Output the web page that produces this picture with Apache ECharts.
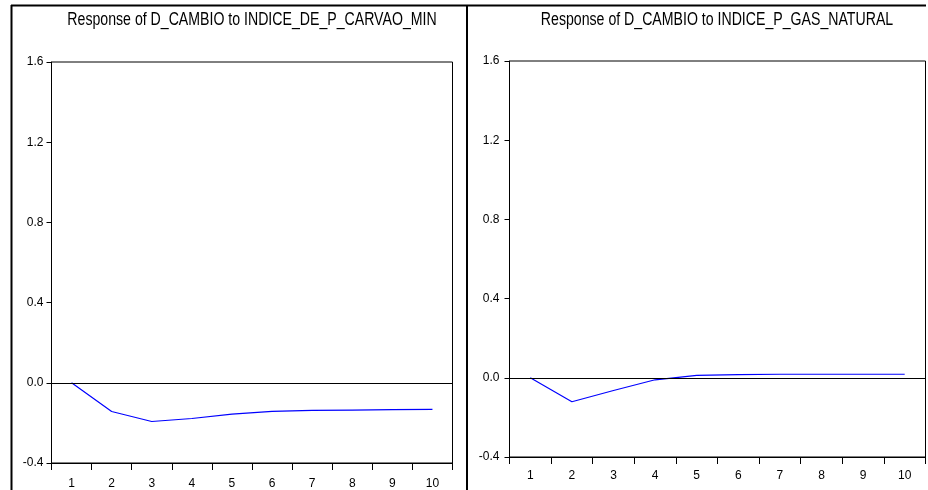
<!DOCTYPE html>
<html>
<head>
<meta charset="utf-8">
<script src="https://cdn.jsdelivr.net/npm/echarts@6/dist/echarts.min.js"></script>
<style>
html,body{margin:0;padding:0;background:#fff;}
#c{width:928px;height:490px;}
</style>
</head>
<body>
<div id="c"></div>
<script>
const periods = ['1','2','3','4','5','6','7','8','9','10'];
const carvaoResponse = [0.000, -0.143, -0.193, -0.178, -0.156, -0.143, -0.138, -0.136, -0.134, -0.133];
const gasResponse = [0.000, -0.121, -0.064, -0.010, 0.012, 0.016, 0.018, 0.018, 0.018, 0.018];
const titles = ['Response of D_CAMBIO to INDICE_DE_P_CARVAO_MIN', 'Response of D_CAMBIO to INDICE_P_GAS_NATURAL'];
const yMin = -0.4, yMax = 1.6, yStep = 0.4;

const FONT = '"Liberation Sans", Arial, sans-serif';
const chart = echarts.init(document.getElementById('c'), null, {renderer: 'canvas'});

function yAxis(gi, margin) {
  return {
    type: 'value', gridIndex: gi, min: yMin, max: yMax, interval: yStep,
    axisLine: {show: true, lineStyle: {color: '#000', width: 1}},
    axisTick: {show: true, length: 5, lineStyle: {color: '#000'}},
    splitLine: {show: false},
    axisLabel: {color: '#000', fontFamily: FONT, fontSize: 12, margin: margin, formatter: v => v.toFixed(1)}
  };
}
function xAxis(gi, margin) {
  return {
    type: 'category', gridIndex: gi, data: periods, boundaryGap: true,
    axisLine: {show: true, onZero: false, lineStyle: {color: '#000', width: 1}},
    axisTick: {show: true, length: 7, lineStyle: {color: '#000'}},
    axisLabel: {color: '#000', fontFamily: FONT, fontSize: 12, margin: margin}
  };
}
function series(gi, data) {
  return {
    type: 'line', xAxisIndex: gi, yAxisIndex: gi, data: data,
    symbol: 'none', lineStyle: {color: '#0000ff', width: 1.2}, silent: true,
    animation: false,
    markLine: {
      silent: true, symbol: 'none', label: {show: false},
      lineStyle: {color: '#000', width: 1, type: 'solid'},
      data: [{yAxis: 0}]
    }
  };
}
function titleText(txt, cx) {
  return {
    type: 'text', x: cx, y: 20, scaleX: 0.785, silent: true,
    style: {text: txt, x: 0, y: 0, align: 'center', verticalAlign: 'middle',
            fontFamily: FONT, fontSize: 18, fill: '#000'}
  };
}

chart.setOption({
  animation: false,
  backgroundColor: '#fff',
  grid: [
    {left: 51.5, top: 62, width: 401, height: 401, show: true, borderColor: '#000', borderWidth: 1, containLabel: false},
    {left: 509.5, top: 61, width: 416, height: 396, show: true, borderColor: '#000', borderWidth: 1, containLabel: false}
  ],
  xAxis: [xAxis(0, 15), xAxis(1, 13)],
  yAxis: [yAxis(0, 8), yAxis(1, 10)],
  series: [series(0, carvaoResponse), series(1, gasResponse)],
  graphic: [
    titleText(titles[0], 252),
    titleText(titles[1], 717),
    {type: 'line', shape: {x1: 11, y1: 5.5, x2: 926, y2: 5.5}, style: {stroke: '#000', lineWidth: 2}, silent: true},
    {type: 'line', shape: {x1: 11.5, y1: 5, x2: 11.5, y2: 490}, style: {stroke: '#000', lineWidth: 2}, silent: true},
    {type: 'line', shape: {x1: 467, y1: 5, x2: 467, y2: 490}, style: {stroke: '#000', lineWidth: 2}, silent: true}
  ]
});
</script>
</body>
</html>
